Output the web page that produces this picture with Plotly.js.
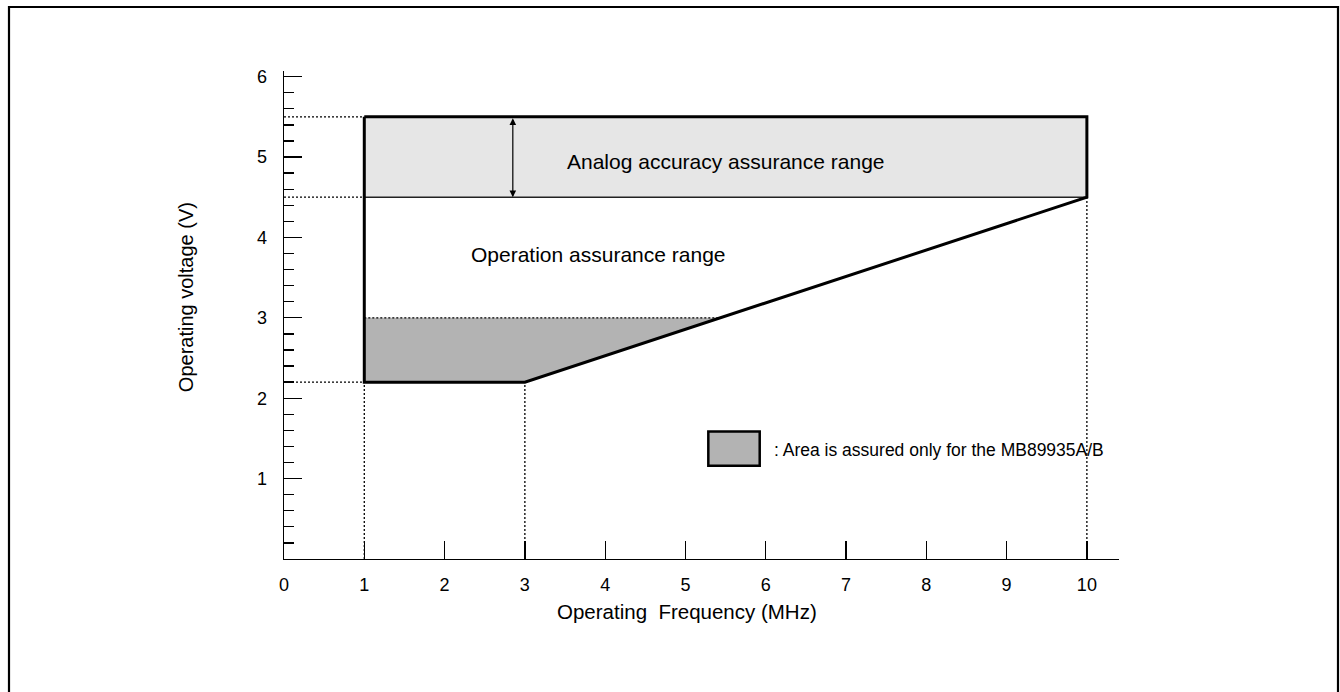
<!DOCTYPE html>
<html>
<head>
<meta charset="utf-8">
<script src="https://cdn.plot.ly/plotly-3.0.1.min.js"></script>
<style>
  html, body { margin: 0; padding: 0; background: #fff; }
  #chart { width: 1340px; height: 692px; }
</style>
</head>
<body>
<div id="chart"></div>
<script>
// ---- data ----
const freqTicks = [0, 1, 2, 3, 4, 5, 6, 7, 8, 9, 10];
const voltTicks = [1, 2, 3, 4, 5, 6];

// operation assurance range outline (MHz, V)
const outlineFreq = [1, 10, 10, 3, 1, 1];
const outlineVolt = [5.5, 5.5, 4.5, 2.2, 2.2, 5.5];

// analog accuracy assurance range
const analogFreq = [1, 10, 10, 1, 1];
const analogVolt = [5.5, 5.5, 4.5, 4.5, 5.5];

// area assured only for the MB89935A/B
const mbFreq = [1, 3, 5.42, 1, 1];
const mbVolt = [2.2, 2.2, 3.0, 3.0, 2.2];
const mbTopFreq = [1, 5.42];
const mbTopVolt = [3.0, 3.0];

// boundary line between ranges
const analogBottomFreq = [1, 10];
const analogBottomVolt = [4.5, 4.5];

// dotted guide lines
const guideHFreq = [0, 1, null, 0, 1, null, 0, 1];
const guideHVolt = [5.5, 5.5, null, 4.5, 4.5, null, 2.2, 2.2];
const guideVFreq = [1, 1, null, 3, 3, null, 10, 10];
const guideVVolt = [0, 2.2, null, 0, 2.2, null, 0, 4.5];

// double arrow marking analog range
const arrowFreq = 2.85;
const arrowVolt = [4.5, 5.5];

const labels = {
  xTitle: 'Operating  Frequency (MHz)',
  yTitle: 'Operating voltage (V)',
  analog: 'Analog accuracy assurance range',
  operation: 'Operation assurance range',
  legend: ': Area is assured only for the MB89935A/B'
};

// ---- drawing ----
const FONT = '"Liberation Sans", Arial, Helvetica, sans-serif';
const DOT = '2px,2px';

const traces = [
  { x: analogFreq, y: analogVolt, mode: 'lines', fill: 'toself',
    fillcolor: '#e6e6e6', line: { width: 0, color: 'rgba(0,0,0,0)' }, hoverinfo: 'skip' },
  { x: mbFreq, y: mbVolt, mode: 'lines', fill: 'toself',
    fillcolor: '#b3b3b3', line: { width: 0, color: 'rgba(0,0,0,0)' }, hoverinfo: 'skip' },
  { x: analogBottomFreq, y: analogBottomVolt, mode: 'lines',
    line: { width: 1.5, color: '#222' }, hoverinfo: 'skip' },
  { x: mbTopFreq, y: mbTopVolt, mode: 'lines',
    line: { width: 1.3, color: '#000', dash: DOT }, hoverinfo: 'skip' },
  { x: guideHFreq, y: guideHVolt, mode: 'lines', connectgaps: false,
    line: { width: 1.3, color: '#000', dash: DOT }, hoverinfo: 'skip' },
  { x: guideVFreq, y: guideVVolt, mode: 'lines', connectgaps: false,
    line: { width: 1.3, color: '#000', dash: DOT }, hoverinfo: 'skip' },
  { x: outlineFreq, y: outlineVolt, mode: 'lines',
    line: { width: 3, color: '#000' }, hoverinfo: 'skip' }
];

const layout = {
  width: 1340, height: 692,
  margin: { l: 284, r: 221, t: 71, b: 133, pad: 0 },
  paper_bgcolor: '#fff', plot_bgcolor: '#fff',
  showlegend: false,
  font: { family: FONT, color: '#000', size: 18 },
  xaxis: {
    range: [0, 10.4], showgrid: false, zeroline: false,
    showline: true, linecolor: '#000', linewidth: 1.4,
    ticks: 'inside', ticklen: 18, tickwidth: 1.3, tickcolor: '#000',
    tickmode: 'array', tickvals: freqTicks, ticktext: freqTicks.map(String),
    tickfont: { family: FONT, size: 18, color: '#000' },
    ticklabelstandoff: 9, fixedrange: true
  },
  yaxis: {
    range: [0, 6.07], showgrid: false, zeroline: false,
    showline: true, linecolor: '#000', linewidth: 1.4,
    ticks: 'inside', ticklen: 18, tickwidth: 1.3, tickcolor: '#000',
    tickmode: 'array', tickvals: voltTicks, ticktext: voltTicks.map(String),
    tickfont: { family: FONT, size: 18, color: '#000' },
    ticklabelstandoff: 12,
    minor: { dtick: 0.2, tick0: 0, ticks: 'inside', ticklen: 10, tickwidth: 1.3, tickcolor: '#000', showgrid: false },
    fixedrange: true
  },
  shapes: [
    // outer frame
    { type: 'rect', xref: 'paper', yref: 'paper',
      x0: (9 - 284) / 835, x1: (1338 - 284) / 835,
      y0: (559 - 705) / 488, y1: (559 - 7) / 488,
      line: { color: '#000', width: 2.2 }, fillcolor: 'rgba(0,0,0,0)', layer: 'above' },
    // legend swatch
    { type: 'rect', xref: 'x', yref: 'y',
      x0: 5.285, x1: 5.925, y0: 1.16, y1: 1.585,
      fillcolor: '#b3b3b3', line: { color: '#000', width: 2.5 } }
  ],
  annotations: [
    { xref: 'paper', yref: 'paper', x: 0.4832, y: -0.108, xanchor: 'center', yanchor: 'middle',
      text: labels.xTitle, showarrow: false, font: { family: FONT, size: 20.5, color: '#000' } },
    { xref: 'paper', yref: 'paper', x: -0.1174, y: 0.5365, xanchor: 'center', yanchor: 'middle',
      text: labels.yTitle, textangle: -90, showarrow: false, font: { family: FONT, size: 20, color: '#000' } },
    { xref: 'x', yref: 'y', x: 5.5, y: 4.95, xanchor: 'center', yanchor: 'middle',
      text: labels.analog, showarrow: false, font: { family: FONT, size: 21, color: '#000' } },
    { xref: 'x', yref: 'y', x: 3.92, y: 3.79, xanchor: 'center', yanchor: 'middle',
      text: labels.operation, showarrow: false, font: { family: FONT, size: 21, color: '#000' } },
    { xref: 'x', yref: 'y', x: 6.08, y: 1.36, xanchor: 'left', yanchor: 'middle',
      text: labels.legend, showarrow: false, font: { family: FONT, size: 17.5, color: '#000' } },
    { xref: 'x', yref: 'y', axref: 'x', ayref: 'y',
      x: arrowFreq, y: arrowVolt[0], ax: arrowFreq, ay: arrowVolt[1],
      text: '', showarrow: true, arrowside: 'end+start',
      arrowhead: 2, startarrowhead: 2, arrowsize: 1.1, startarrowsize: 1.1,
      arrowwidth: 1.2, arrowcolor: '#000', standoff: 0, startstandoff: 0 }
  ]
};

Plotly.newPlot('chart', traces, layout, { displayModeBar: false, staticPlot: true });
</script>
</body>
</html>
